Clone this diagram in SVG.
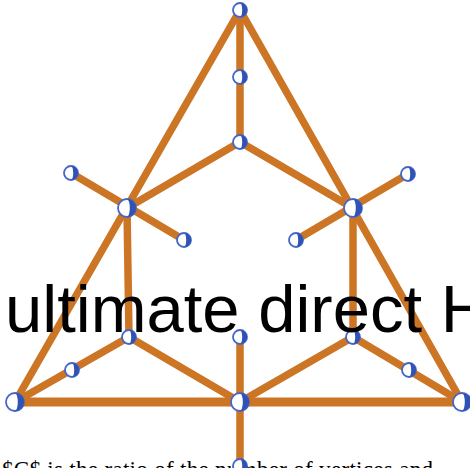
<svg xmlns="http://www.w3.org/2000/svg" width="470" height="468" viewBox="0 0 470 468">
<style>
.e{stroke:#cc7524;stroke-width:7.5;stroke-linecap:round;fill:none}
.eb{stroke:#cc7524;stroke-width:9;stroke-linecap:butt;fill:none}
.nc{fill:#ffffff;stroke:#4466c8;stroke-width:1.8}
.nh{fill:#2f52b4}
.big{font-family:"Liberation Sans",Arial,sans-serif;font-size:67px;fill:#000}
.cap{font-family:"Liberation Serif","Times New Roman",serif;font-size:23px;fill:#000}
</style>
<defs>
<g id="ns"><circle class="nc" r="7"/><path class="nh" d="M0,-7 A7,7 0 0 1 0,7 A2.2,7 0 0 0 0,-7Z"/></g>
<g id="nb"><circle class="nc" r="9"/><path class="nh" d="M0,-9 A9,9 0 0 1 0,9 A2.8,9 0 0 0 0,-9Z"/></g>
</defs>
<text class="cap" x="2" y="477" textLength="431" lengthAdjust="spacing">$C$ is the ratio of the number of vertices and</text>
<g id="connectors">
<line class="e" x1="240" y1="10" x2="15" y2="402"/>
<line class="e" x1="240" y1="10" x2="462" y2="402"/>
<line class="e" x1="240" y1="10" x2="240" y2="142"/>
<line class="e" x1="240" y1="142" x2="127" y2="208"/>
<line class="e" x1="240" y1="142" x2="353" y2="208"/>
<line class="e" x1="71" y1="173" x2="184" y2="240"/>
<line class="e" x1="408" y1="174" x2="296" y2="240"/>
<line class="e" x1="127" y1="208" x2="129" y2="337"/>
<line class="e" x1="353" y1="208" x2="353" y2="337"/>
<line class="e" x1="129" y1="337" x2="240" y2="402"/>
<line class="e" x1="129" y1="337" x2="15" y2="402"/>
<line class="e" x1="353" y1="337" x2="240" y2="402"/>
<line class="e" x1="353" y1="337" x2="462" y2="402"/>
<line class="eb" x1="15" y1="402" x2="462" y2="402"/>
<line class="e" x1="240" y1="337" x2="240" y2="466"/>
</g>
<g id="n1"><use href="#ns" x="240" y="10"/></g>
<g id="n2"><use href="#ns" x="240" y="77"/></g>
<g id="n3"><use href="#ns" x="240" y="142"/></g>
<g id="n4"><use href="#nb" x="127" y="208"/></g>
<g id="n5"><use href="#nb" x="353" y="208"/></g>
<g id="n6"><use href="#ns" x="71" y="173"/></g>
<g id="n7"><use href="#ns" x="184" y="240"/></g>
<g id="n8"><use href="#ns" x="408" y="174"/></g>
<g id="n9"><use href="#ns" x="296" y="240"/></g>
<g id="n10"><use href="#ns" x="129" y="337"/></g>
<g id="n11"><use href="#ns" x="353" y="337"/></g>
<g id="n12"><use href="#ns" x="72" y="370"/></g>
<g id="n13"><use href="#ns" x="409" y="370"/></g>
<g id="n14"><use href="#ns" x="240" y="337"/></g>
<g id="n15"><use href="#nb" x="240" y="402"/></g>
<g id="n16"><use href="#nb" x="15" y="402"/></g>
<g id="n17"><use href="#nb" x="462" y="402"/></g>
<g id="n18"><use href="#ns" x="240" y="466"/></g>
<text class="big" x="5" y="332">ultimate direct H</text>
</svg>
